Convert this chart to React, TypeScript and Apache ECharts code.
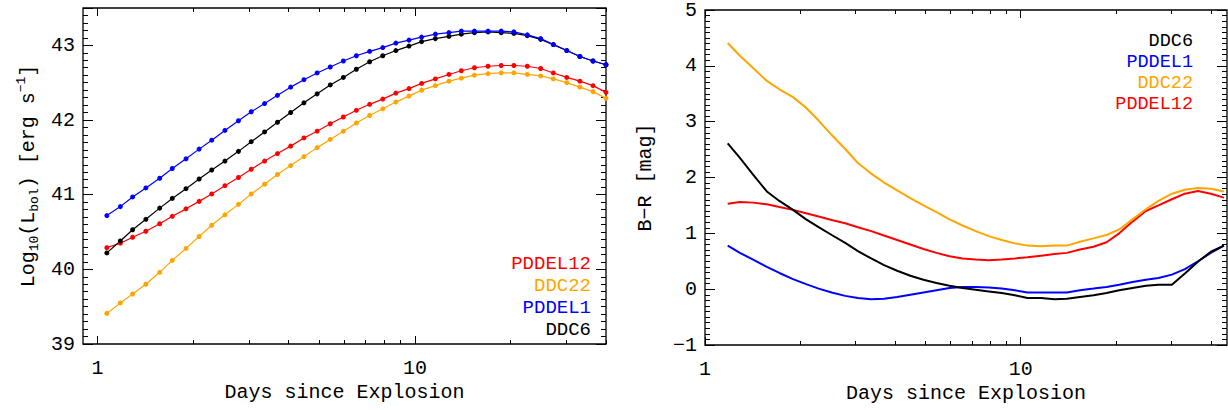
import React, { useEffect, useRef } from "react";
import * as echarts from "echarts";

// ---------- data ----------
const LC_DAYS = [1.07, 1.18, 1.29, 1.42, 1.57, 1.72, 1.90, 2.09, 2.29, 2.52, 2.78, 3.05, 3.36, 3.69, 4.06, 4.47, 4.92, 5.41, 5.95, 6.54, 7.20, 7.92, 8.71, 9.58, 10.5, 11.6, 12.8, 14.0, 15.4, 17.0, 18.7, 20.5, 22.6, 24.9, 27.3, 30.1, 33.1, 36.4, 40.0];

const LC_PDDEL12 = [40.29, 40.35, 40.43, 40.51, 40.61, 40.71, 40.81, 40.91, 41.01, 41.12, 41.23, 41.34, 41.45, 41.55, 41.65, 41.76, 41.85, 41.95, 42.04, 42.13, 42.21, 42.28, 42.36, 42.42, 42.49, 42.55, 42.61, 42.66, 42.70, 42.72, 42.73, 42.73, 42.72, 42.69, 42.63, 42.57, 42.52, 42.46, 42.37];
const LC_DDC22 = [39.41, 39.55, 39.67, 39.80, 39.96, 40.12, 40.28, 40.44, 40.59, 40.73, 40.87, 41.01, 41.14, 41.27, 41.39, 41.51, 41.63, 41.74, 41.85, 41.96, 42.06, 42.15, 42.24, 42.32, 42.40, 42.46, 42.52, 42.56, 42.60, 42.62, 42.63, 42.63, 42.61, 42.59, 42.55, 42.50, 42.44, 42.38, 42.29];
const LC_PDDEL1 = [40.72, 40.84, 40.97, 41.09, 41.22, 41.35, 41.48, 41.61, 41.73, 41.86, 41.99, 42.11, 42.22, 42.33, 42.44, 42.54, 42.63, 42.71, 42.79, 42.86, 42.92, 42.97, 43.03, 43.07, 43.11, 43.15, 43.17, 43.19, 43.19, 43.19, 43.19, 43.18, 43.14, 43.09, 43.01, 42.93, 42.85, 42.79, 42.74];
const LC_DDC6 = [40.22, 40.38, 40.53, 40.67, 40.82, 40.95, 41.08, 41.21, 41.33, 41.45, 41.58, 41.71, 41.84, 41.97, 42.10, 42.23, 42.35, 42.47, 42.57, 42.68, 42.78, 42.86, 42.93, 42.99, 43.05, 43.09, 43.12, 43.15, 43.17, 43.18, 43.17, 43.16, 43.13, 43.08, 43.01, 42.93, 42.85, 42.79, 42.74];

const BR_DAYS = [1.18, 1.29, 1.42, 1.57, 1.72, 1.90, 2.09, 2.29, 2.52, 2.78, 3.05, 3.36, 3.69, 4.06, 4.47, 4.92, 5.41, 5.95, 6.54, 7.20, 7.92, 8.71, 9.58, 10.5, 11.6, 12.8, 14.0, 15.4, 17.0, 18.7, 20.5, 22.6, 24.9, 27.3, 30.1, 33.1, 36.4, 40.0, 44.0];

const BR_DDC6 = [2.61, 2.35, 2.05, 1.75, 1.58, 1.42, 1.25, 1.11, 0.97, 0.83, 0.68, 0.55, 0.43, 0.33, 0.24, 0.17, 0.11, 0.06, 0.02, -0.01, -0.04, -0.07, -0.11, -0.16, -0.16, -0.18, -0.17, -0.14, -0.11, -0.07, -0.02, 0.02, 0.06, 0.08, 0.08, 0.28, 0.49, 0.67, 0.78];
const BR_PDDEL1 = [0.78, 0.65, 0.53, 0.40, 0.29, 0.18, 0.09, 0.01, -0.06, -0.12, -0.16, -0.18, -0.17, -0.14, -0.10, -0.06, -0.02, 0.02, 0.04, 0.04, 0.03, 0.01, -0.02, -0.06, -0.06, -0.06, -0.06, -0.02, 0.01, 0.04, 0.08, 0.13, 0.17, 0.20, 0.26, 0.36, 0.50, 0.65, 0.78];
const BR_DDC22 = [4.41, 4.18, 3.96, 3.73, 3.58, 3.44, 3.25, 3.02, 2.76, 2.51, 2.26, 2.07, 1.91, 1.77, 1.63, 1.50, 1.38, 1.25, 1.14, 1.04, 0.95, 0.88, 0.82, 0.78, 0.77, 0.78, 0.78, 0.85, 0.91, 0.97, 1.07, 1.25, 1.43, 1.58, 1.71, 1.78, 1.81, 1.80, 1.75];
const BR_PDDEL12 = [1.53, 1.56, 1.55, 1.52, 1.47, 1.42, 1.36, 1.30, 1.24, 1.18, 1.11, 1.04, 0.96, 0.88, 0.80, 0.72, 0.65, 0.59, 0.55, 0.53, 0.52, 0.53, 0.55, 0.57, 0.60, 0.63, 0.65, 0.71, 0.76, 0.84, 1.00, 1.21, 1.40, 1.50, 1.61, 1.71, 1.76, 1.71, 1.64];

const LC_LEGEND = ["PDDEL12", "DDC22", "PDDEL1", "DDC6"];
const BR_LEGEND = ["DDC6", "PDDEL1", "DDC22", "PDDEL12"];
const COLORS: Record<string, string> = { DDC6: "#000000", PDDEL1: "#0000ff", DDC22: "#ffa500", PDDEL12: "#ff0000" };

const X_MAJOR_TICKS = [1, 10];
const X_MINOR_TICKS = [2, 3, 4, 5, 6, 7, 8, 9, 20, 30, 40];

const FONT = "Liberation Mono";

// ---------- helpers ----------
const tickLine = { color: "#000", width: 1 };

function makeXAxes(grid: number, min: number, max: number) {
  const lmin = Math.log10(min);
  const lmax = Math.log10(max);
  const major = X_MAJOR_TICKS.map((v) => Math.log10(v));
  const minor = X_MINOR_TICKS.map((v) => Math.log10(v));
  const base = {
    gridIndex: grid,
    type: "value",
    min: lmin,
    max: lmax,
    axisLine: { show: false, onZero: false },
    splitLine: { show: false },
    axisLabel: { show: false },
  };
  return [
    { gridIndex: grid, type: "log", logBase: 10, min, max, position: "bottom", show: false, axisLine: { onZero: false } },
    {
      ...base,
      position: "bottom",
      axisTick: { show: true, inside: true, length: 8, customValues: major, lineStyle: tickLine },
      axisLabel: {
        show: true,
        customValues: major,
        formatter: (v: number) => String(Math.round(Math.pow(10, v))),
        margin: 14,
        color: "#000",
        fontFamily: FONT,
        fontSize: 20,
      },
      name: "Days since Explosion",
      nameLocation: "middle",
      nameGap: 37,
      nameTextStyle: { color: "#000", fontFamily: FONT, fontSize: 20 },
    },
    { ...base, position: "bottom", axisTick: { show: true, inside: true, length: 4, customValues: minor, lineStyle: tickLine } },
    { ...base, position: "top", axisTick: { show: true, inside: true, length: 8, customValues: major, lineStyle: tickLine } },
    { ...base, position: "top", axisTick: { show: true, inside: true, length: 4, customValues: minor, lineStyle: tickLine } },
  ];
}

function makeYAxes(grid: number, min: number, max: number, name: any, nameGap: number, rich?: any) {
  const base = {
    gridIndex: grid,
    type: "value",
    min,
    max,
    axisLine: { show: false, onZero: false },
    splitLine: { show: false },
  };
  return [
    {
      ...base,
      interval: 1,
      position: "left",
      axisTick: { show: true, inside: true, length: 10, lineStyle: tickLine },
      axisLabel: {
        show: true,
        margin: 8,
        color: "#000",
        fontFamily: FONT,
        fontSize: 20,
        formatter: (v: number) => (Number.isInteger(v) ? String(v).replace("-", "\u2212") : ""),
      },
      name,
      nameLocation: "middle",
      nameRotate: 90,
      nameGap,
      nameTextStyle: { color: "#000", fontFamily: FONT, fontSize: 20, rich },
    },
    { ...base, interval: 0.1, position: "left", axisTick: { show: true, inside: true, length: 5, lineStyle: tickLine }, axisLabel: { show: false } },
    { ...base, interval: 1, position: "right", axisTick: { show: true, inside: true, length: 10, lineStyle: tickLine }, axisLabel: { show: false } },
    { ...base, interval: 0.1, position: "right", axisTick: { show: true, inside: true, length: 5, lineStyle: tickLine }, axisLabel: { show: false } },
  ];
}

function zip(xs: number[], ys: number[]) {
  return xs.map((x, i) => [x, ys[i]]);
}

export default function App() {
  const ref = useRef<HTMLDivElement>(null);

  useEffect(() => {
    if (!ref.current) return;
    const chart = echarts.init(ref.current, undefined, { renderer: "svg" });

    const richY = {
      n: { fontFamily: FONT, fontSize: 20, color: "#000" },
      s: { fontFamily: FONT, fontSize: 13, color: "#000", verticalAlign: "top", padding: [13, 0, 0, 0] },
      p: { fontFamily: FONT, fontSize: 13, color: "#000", verticalAlign: "top", padding: [0, 0, 0, 0] },
    };
    const lcName = "{n|Log}{s|10}{n|(L}{s|bol}{n|) [erg s}{p|\u22121}{n|]}";

    const lcSeries = [
      { name: "PDDEL12", data: LC_PDDEL12 },
      { name: "DDC22", data: LC_DDC22 },
      { name: "PDDEL1", data: LC_PDDEL1 },
      { name: "DDC6", data: LC_DDC6 },
    ].map((s) => ({
      type: "line",
      name: s.name,
      xAxisIndex: 0,
      yAxisIndex: 0,
      data: zip(LC_DAYS, s.data),
      symbol: "circle",
      symbolSize: 5,
      showSymbol: true,
      lineStyle: { color: COLORS[s.name], width: 1.2 },
      itemStyle: { color: COLORS[s.name] },
      clip: true,
      z: s.name === "PDDEL1" ? 3 : 2,
    }));

    const brSeries = [
      { name: "PDDEL12", data: BR_PDDEL12 },
      { name: "DDC22", data: BR_DDC22 },
      { name: "PDDEL1", data: BR_PDDEL1 },
      { name: "DDC6", data: BR_DDC6 },
    ].map((s) => ({
      type: "line",
      name: s.name + " B-R",
      xAxisIndex: 5,
      yAxisIndex: 4,
      data: zip(BR_DAYS, s.data),
      showSymbol: false,
      symbol: "none",
      lineStyle: { color: COLORS[s.name], width: 2 },
      clip: true,
    }));

    // one multi-line, per-line coloured text block per panel
    const legendBlock = (names: string[], x: number, yTop: number, size: number, lh: number) => {
      const rich: Record<string, any> = {};
      names.forEach((n) => {
        rich[n] = { fill: COLORS[n], font: `${size}px "${FONT}"`, lineHeight: lh, align: "right" };
      });
      return {
        type: "text",
        x,
        y: yTop,
        style: {
          text: names.map((n) => `{${n}|${n}}`).join("\n"),
          rich,
          font: `${size}px "${FONT}"`,
          lineHeight: lh,
          align: "right",
          verticalAlign: "top",
        },
      };
    };

    chart.setOption({
      animation: false,
      backgroundColor: "#fff",
      grid: [
        { left: 83, top: 8, width: 523, height: 336, show: true, borderColor: "#000", borderWidth: 1.3, backgroundColor: "transparent" },
        { left: 705, top: 7, width: 522, height: 338, show: true, borderColor: "#000", borderWidth: 1.3, backgroundColor: "transparent" },
      ],
      xAxis: [...makeXAxes(0, 0.9, 40), ...makeXAxes(1, 1, 45)],
      yAxis: [
        ...makeYAxes(0, 39, 43.5, lcName, 42, richY),
        ...makeYAxes(1, -1, 5, "B\u2212R [mag]", 50),
      ],
      series: [...lcSeries, ...brSeries],
      graphic: [legendBlock(LC_LEGEND, 591, 253, 19, 22), legendBlock(BR_LEGEND, 1193, 31, 18.5, 21)],
    });

    return () => chart.dispose();
  }, []);

  return <div ref={ref} style={{ position: "absolute", left: 0, top: 0, width: 1228, height: 410 }} />;
}
